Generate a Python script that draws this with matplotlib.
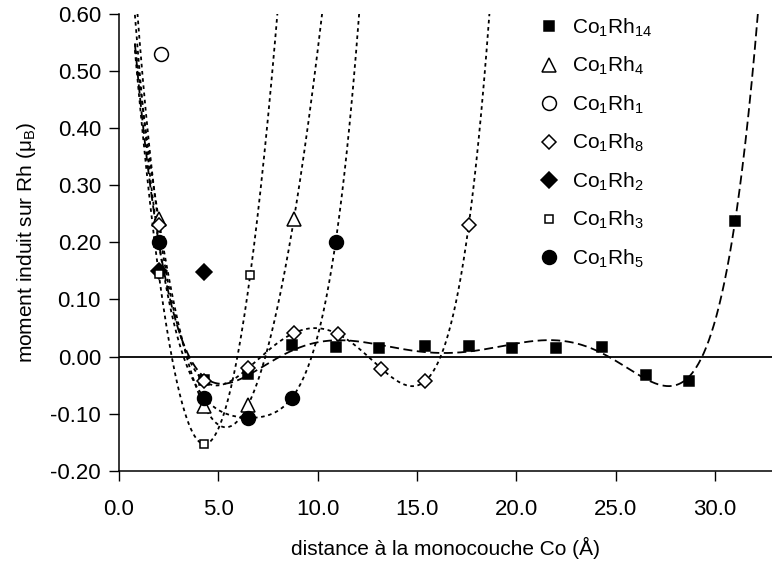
import numpy as np
import matplotlib
matplotlib.use("Agg")
import matplotlib.pyplot as plt

plt.rcParams["font.family"] = ["Liberation Sans", "DejaVu Sans"]
plt.rcParams["mathtext.default"] = "regular"

# --- data (distance in Å, induced moment in µB) ---
x_rh14 = [2.0, 4.3, 6.5, 8.7, 10.9, 13.1, 15.4, 17.6, 19.8, 22.0, 24.3, 26.5, 28.7, 31.0]
y_rh14 = [0.20, -0.040, -0.030, 0.020, 0.016, 0.015, 0.018, 0.018, 0.015, 0.015,
          0.016, -0.033, -0.042, 0.238]
x_rh4 = [2.0, 4.3, 6.5, 8.8]
y_rh4 = [0.24, -0.087, -0.084, 0.24]
x_rh1 = [2.1]
y_rh1 = [0.53]
x_rh8 = [2.0, 4.3, 6.5, 8.8, 11.0, 13.2, 15.4, 17.6]
y_rh8 = [0.23, -0.043, -0.020, 0.041, 0.040, -0.021, -0.043, 0.23]
x_rh2 = [2.0, 4.3]
y_rh2 = [0.15, 0.148]
x_rh3 = [2.0, 4.3, 6.6]
y_rh3 = [0.145, -0.153, 0.142]
x_rh5 = [2.0, 4.3, 6.5, 8.7, 10.9]
y_rh5 = [0.20, -0.072, -0.107, -0.072, 0.20]

labels = [r"Co$_1$Rh$_{14}$", r"Co$_1$Rh$_4$", r"Co$_1$Rh$_1$", r"Co$_1$Rh$_8$",
          r"Co$_1$Rh$_2$", r"Co$_1$Rh$_3$", r"Co$_1$Rh$_5$"]

DOT = (0, (2, 2))
DASH = (0, (5, 2.5))
series = [
    # x, y, marker, size, face, trend style
    (x_rh14, y_rh14, "s", 7, "black", DASH),
    (x_rh4, y_rh4, "^", 10, "white", DOT),
    (x_rh1, y_rh1, "o", 10, "white", None),
    (x_rh8, y_rh8, "D", 7.5, "white", DOT),
    (x_rh2, y_rh2, "D", 8.5, "black", None),
    (x_rh3, y_rh3, "s", 6, "white", DOT),
    (x_rh5, y_rh5, "o", 10, "black", DOT),
]

W, H = 772, 568
fig = plt.figure(figsize=(W / 100, H / 100), dpi=100)
ax = fig.add_axes([119 / W, 1 - 471 / H, 1 - 119 / W, (471 - 13.5) / H])

# polynomial trendlines (order n-1, max 6), as in the spreadsheet original
xx = np.linspace(0.8, 33, 1000)
for x, y, m, ms, fc, ls in series:
    if ls is None or len(x) < 3:
        continue
    deg = min(len(x) - 1, 6)
    p = np.polyfit(x, y, deg)
    ax.plot(xx, np.polyval(p, xx), color="black", ls=ls, lw=1.3, zorder=2)

ax.axhline(0, color="black", lw=1.3, zorder=1)

for (x, y, m, ms, fc, ls), lab in zip(series, labels):
    ax.plot(x, y, ls="none", marker=m, ms=ms, mfc=fc, mec="black", mew=1.1,
            label=lab, zorder=3)

ax.set_xlim(0, 32.86)
ax.set_ylim(-0.20, 0.60)
xt = np.arange(0, 31, 5)
ax.set_xticks(xt)
ax.set_xticklabels([f"{v:.1f}" for v in xt])
yt = np.round(np.arange(-0.2, 0.61, 0.1), 2)
ax.set_yticks(yt)
ax.set_yticklabels([f"{v:.2f}" if v != 0 else "0.00" for v in yt])
ax.tick_params(direction="out", length=7, width=1, labelsize=16)
ax.tick_params(axis="x", pad=13)
ax.tick_params(axis="y", pad=6)

for s in ("top", "right"):
    ax.spines[s].set_visible(False)
for s in ("left", "bottom"):
    ax.spines[s].set_linewidth(1.1)

ax.set_xlabel("distance à la monocouche Co (Å)", fontsize=15, labelpad=12)
ax.set_ylabel("moment induit sur Rh (μ$_B$)", fontsize=15, labelpad=9)

ax.legend(loc="upper left", bbox_to_anchor=(528 / W, 1 - 6 / H),
          bbox_transform=fig.transFigure, frameon=False, fontsize=15,
          handlelength=1.0, handletextpad=0.6, labelspacing=0.78, borderpad=0)

fig.savefig("out.png", dpi=100)
